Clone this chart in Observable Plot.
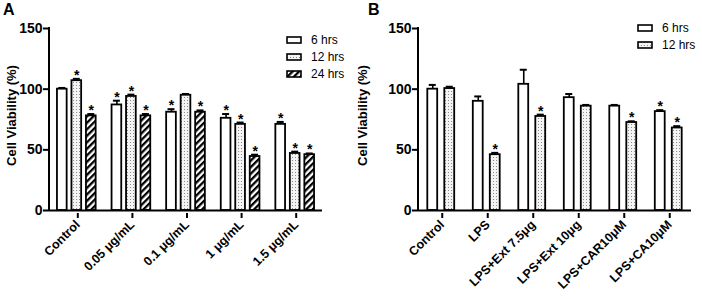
<!DOCTYPE html>
<html><head><meta charset="utf-8">
<script src="https://cdn.jsdelivr.net/npm/d3@7"></script>
<script src="https://cdn.jsdelivr.net/npm/@observablehq/plot@0.6"></script>
<style>
body{margin:0;background:#fff;}
#wrap{position:relative;width:702px;height:299px;font-family:"Liberation Sans",Arial,sans-serif;}
.panel{position:absolute;top:0;}
.letter{position:absolute;font-weight:bold;font-size:16px;}
.leg{position:absolute;font-size:12px;}
.leg .row{position:absolute;left:0;white-space:nowrap;display:flex;align-items:center;}
.leg svg{margin-right:9px;}
</style></head>
<body><div id="wrap"></div>
<script>
// ---- Panel A data ----
const categoriesA = ["Control", "0.05 μg/mL", "0.1 μg/mL", "1 μg/mL", "1.5 μg/mL"];
const seriesA = ["6 hrs", "12 hrs", "24 hrs"];
const valuesA6  = [100, 87, 81, 76, 71];
const valuesA12 = [107, 94, 95, 71, 47];
const valuesA24 = [78, 78, 81, 44.5, 46];
const errA6  = [1, 3.5, 2.5, 3.5, 2];
const errA12 = [1.5, 1.5, 1, 1.5, 1.5];
const errA24 = [1.5, 1.5, 1.5, 1.5, 1];
const starA6  = [false, true, true, true, true];
const starA12 = [true, true, false, true, true];
const starA24 = [true, true, true, true, true];
// ---- Panel B data ----
const categoriesB = ["Control", "LPS", "LPS+Ext 7.5μg", "LPS+Ext 10μg", "LPS+CAR10μM", "LPS+CA10μM"];
const seriesB = ["6 hrs", "12 hrs"];
const valuesB6  = [100, 90, 104, 93, 86, 81.5];
const valuesB12 = [100.5, 46, 77.5, 86, 72.5, 68];
const errB6  = [3.5, 4, 12, 3, 1, 1.2];
const errB12 = [1.5, 1.5, 1.5, 1, 1, 1.5];
const starB6  = [false, false, false, false, false, true];
const starB12 = [false, true, true, false, true, true];
const yTicks = [0, 50, 100, 150];

const fills = ["white", "url(#dots)", "url(#hatch)"];
const W = 351, H = 299;
const font = "'Liberation Sans', Arial, sans-serif";

function panel({categories, series, values, errs, stars, ml, mr, barVis, gap}) {
  const n = categories.length, m = series.length;
  const step = (W - ml - mr) / n;
  const slot = barVis + gap;
  const pad = (step - slot * m) / 2;
  const sw = 1.8, capW = 7;
  const marks = [];
  series.forEach((s, j) => {
    const rows = categories.map((c, i) => ({cat: c, value: values[j][i], err: errs[j][i], star: stars[j][i]}));
    const left = pad + j * slot + gap / 2 + sw / 2;
    const rw = barVis - sw;
    const dx = -step / 2 + pad + (j + 0.5) * slot;
    marks.push(Plot.ruleX(rows, {x: "cat", y1: "value", y2: d => d.value + d.err, dx, stroke: "black", strokeWidth: 1.6}));
    marks.push(Plot.tickY(rows, {x: "cat", y: d => d.value + d.err, insetLeft: step / 2 + dx - capW / 2, insetRight: step / 2 - dx - capW / 2, stroke: "black", strokeWidth: 2}));
    marks.push(Plot.barY(rows, {x: "cat", y: "value", fill: fills[j], stroke: "black", strokeWidth: sw, insetLeft: left, insetRight: step - left - rw}));
    marks.push(Plot.text(rows.filter(d => d.star), {x: "cat", y: d => d.value + d.err, dx, dy: 1, text: () => "*", lineAnchor: "bottom", fontSize: 14, fontWeight: "bold", fill: "black"}));
  });
  const svg = Plot.plot({
    width: W, height: H,
    marginLeft: ml, marginRight: mr, marginTop: 28, marginBottom: 89,
    style: {fontFamily: font, background: "white", color: "black", overflow: "visible"},
    x: {domain: categories, padding: 0, round: false, label: null},
    y: {domain: [0, 150], label: null},
    marks: [
      ...marks,
      Plot.ruleY([0], {stroke: "black", strokeWidth: 2}),
      (index, scales, values, dims) => {
        const l = document.createElementNS("http://www.w3.org/2000/svg", "line");
        l.setAttribute("x1", dims.marginLeft); l.setAttribute("x2", dims.marginLeft);
        l.setAttribute("y1", dims.marginTop - 1); l.setAttribute("y2", dims.height - dims.marginBottom + 1);
        l.setAttribute("stroke", "black"); l.setAttribute("stroke-width", 2);
        return l;
      },
      Plot.axisY({ticks: yTicks, tickSize: 6, tickPadding: 1, fontSize: 14, fontWeight: "bold", label: null, strokeWidth: 2}),
      Plot.axisX({tickSize: 5, tickPadding: 4, tickRotate: -45, dx: 1, dy: 3, fontSize: 12.5, fontWeight: "bold", label: null, strokeWidth: 2}),
      Plot.text(["Cell Viability (%)"], {frameAnchor: "left", textAnchor: "middle", rotate: -90, dx: -ml + 11, dy: -4, fontSize: 13, fontWeight: "bold", fill: "black"})
    ]
  });
  return svg;
}

const wrap = document.getElementById("wrap");
const svgA = panel({categories: categoriesA, series: seriesA, values: [valuesA6, valuesA12, valuesA24], errs: [errA6, errA12, errA24], stars: [starA6, starA12, starA24], ml: 49, mr: 29, barVis: 11.5, gap: 3});
const svgB = panel({categories: categoriesB, series: seriesB, values: [valuesB6, valuesB12], errs: [errB6, errB12], stars: [starB6, starB12], ml: 67, mr: 11, barVis: 11.7, gap: 5.3});

// pattern definitions
const defs = d3.select(svgA).insert("defs", ":first-child");
const dots = defs.append("pattern").attr("id", "dots").attr("patternUnits", "userSpaceOnUse").attr("width", 3).attr("height", 3);
dots.append("rect").attr("width", 3).attr("height", 3).attr("fill", "#f4f4f4");
dots.append("rect").attr("x", 1).attr("y", 1).attr("width", 1).attr("height", 1).attr("fill", "#8a8a8a");
const hatch = defs.append("pattern").attr("id", "hatch").attr("patternUnits", "userSpaceOnUse").attr("width", 4.6).attr("height", 4.6).attr("patternTransform", "rotate(45)");
hatch.append("rect").attr("width", 4.6).attr("height", 4.6).attr("fill", "white");
hatch.append("rect").attr("width", 2.3).attr("height", 4.6).attr("fill", "black");

svgA.classList.add("panel"); svgA.style.left = "0px";
svgB.classList.add("panel"); svgB.style.left = "351px";
wrap.appendChild(svgA); wrap.appendChild(svgB);

function letter(t, x, y) {
  const d = document.createElement("div"); d.className = "letter"; d.textContent = t;
  d.style.left = x + "px"; d.style.top = y + "px"; wrap.appendChild(d);
}
letter("A", 3, 1); letter("B", 368, 1);

function legend(series, x, y, spacing) {
  const d = document.createElement("div"); d.className = "leg";
  d.style.left = x + "px"; d.style.top = y + "px";
  series.forEach((s, j) => {
    const r = document.createElement("div"); r.className = "row";
    r.style.top = (j * spacing) + "px";
    r.innerHTML = `<svg width="16" height="8"><rect x="1" y="1" width="14" height="6" fill="${fills[j]}" stroke="black" stroke-width="1.6"/></svg><span>${s}</span>`;
    d.appendChild(r); 
  });
  wrap.appendChild(d);
}
legend(seriesA, 286, 33, 17);
legend(seriesB, 637, 21, 16.5);
</script></body></html>
